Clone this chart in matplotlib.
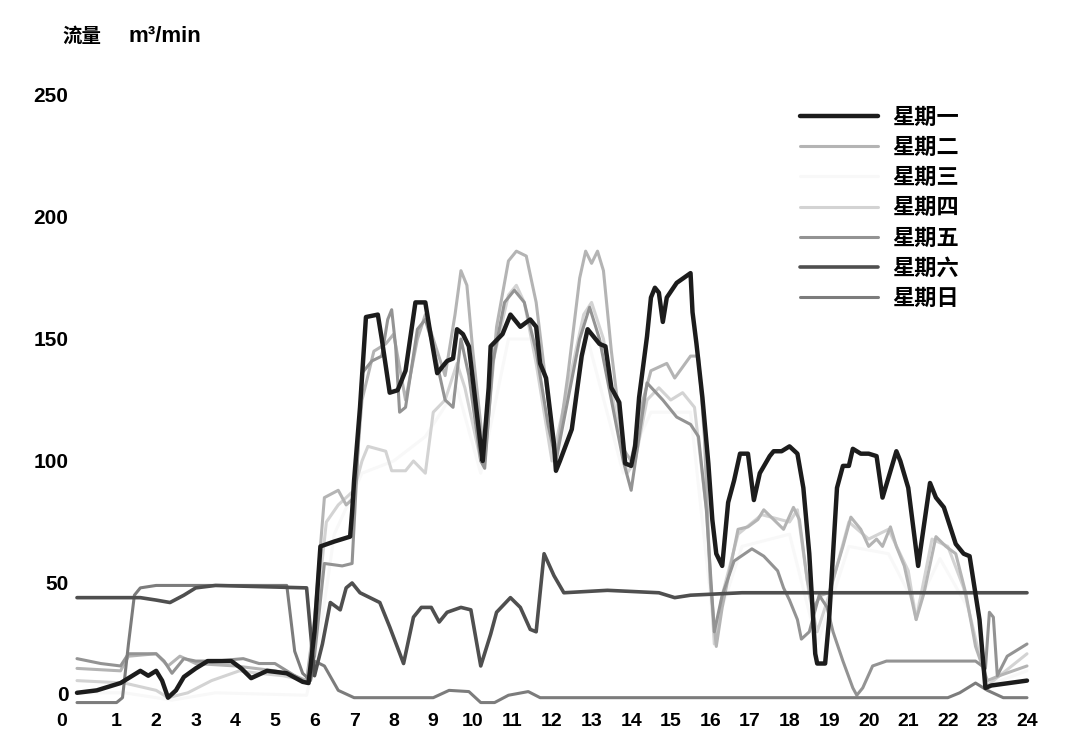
import matplotlib.pyplot as plt

# hour-of-day / flow readings (m3/min) for each weekday
hours_mon = [0, 0.5, 1.1, 1.4, 1.6, 1.8, 2.0, 2.15, 2.3, 2.5, 2.7, 3.0, 3.3, 3.9, 4.15, 4.4, 4.8, 5.3, 5.7, 5.85,
             6.0, 6.15, 6.5, 6.9, 6.95, 7.0, 7.15, 7.3, 7.6, 7.7, 7.9, 8.1, 8.3, 8.55, 8.8, 8.9, 9.1, 9.35, 9.5,
             9.6, 9.75, 9.9, 10.2, 10.25, 10.4, 10.45, 10.75, 10.95, 11.2, 11.45, 11.6, 11.7, 11.85, 12.05, 12.1,
             12.2, 12.5, 12.75, 12.9, 13.2, 13.35, 13.5, 13.7, 13.85, 14.0, 14.1, 14.2, 14.4, 14.5, 14.6, 14.7,
             14.8, 14.9, 15.15, 15.5, 15.55, 15.65, 15.8, 15.95, 16.05, 16.15, 16.3, 16.45, 16.6, 16.75, 16.95,
             17.1, 17.25, 17.5, 17.6, 17.8, 18.0, 18.2, 18.35, 18.5, 18.65, 18.7, 18.9, 19.0, 19.2, 19.35, 19.5,
             19.6, 19.8, 20.0, 20.2, 20.35, 20.7, 20.8, 21.0, 21.25, 21.55, 21.7, 21.9, 22.2, 22.4, 22.55, 22.8,
             22.95, 23.1, 24]
flow_mon = [5, 6, 9, 12, 14, 12, 14, 10, 3, 6, 11.5, 15, 18, 18, 15, 11, 14, 13, 9.5, 9,
            30, 65, 67, 69, 79, 92, 122, 159, 160, 150, 128, 129, 137, 165, 165, 155, 136, 141, 142,
            154, 152, 147, 106, 100, 130, 147, 152, 160, 155, 158, 155, 140, 134, 107, 96,
            100, 113, 143, 154, 148, 147, 130, 124, 99, 98, 106, 126, 151, 167, 171, 169,
            157, 167, 173, 177, 161, 148, 126, 99, 76, 62, 57, 83, 92, 103, 103,
            84, 95, 102, 104, 104, 106, 103, 89, 62, 21, 17, 17, 35, 89, 98, 98,
            105, 103, 103, 102, 85, 104, 100, 89, 57, 91, 85, 81, 66, 62, 61, 35,
            7, 8, 10]

hours_tue = [0, 1.1, 1.3, 2.0, 2.3, 2.6, 3.0, 4.0, 5.0, 5.5, 5.8, 6.0, 6.25, 6.6, 6.8, 7.0, 7.2, 7.5, 7.8, 8.0,
             8.3, 8.6, 8.8, 9.0, 9.3, 9.55, 9.7, 9.85, 10.0, 10.3, 10.6, 10.9, 11.1, 11.35, 11.6, 11.9, 12.1,
             12.4, 12.7, 12.85, 13.0, 13.15, 13.3, 13.5, 13.8, 14.0, 14.3, 14.5, 14.9, 15.1, 15.5, 15.7, 15.85,
             16.0, 16.15, 16.3, 16.7, 16.95, 17.2, 17.35, 17.6, 17.85, 18.1, 18.25, 18.45, 18.6, 18.8, 19.0,
             19.35, 19.55, 19.8, 20.0, 20.2, 20.35, 20.55, 20.7, 20.9, 21.2, 21.4, 21.7, 21.95, 22.2, 22.45,
             22.7, 23.0, 23.3, 24]
flow_tue = [15, 14, 20, 21, 16, 20, 17, 16, 14, 12, 10, 35, 85, 88, 82, 85, 125, 145, 148, 152,
            125, 150, 160, 150, 135, 160, 178, 172, 145, 100, 155, 182, 186, 184, 165, 125, 100,
            135, 175, 186, 181, 186, 178, 145, 105, 100, 125, 137, 140, 134, 143, 143, 110,
            50, 24, 40, 72, 73, 76, 80, 76, 72, 81, 76, 51, 40, 45, 46,
            65, 77, 72, 65, 68, 65, 73, 65, 57, 35, 46, 69, 65, 62, 46,
            24, 10, 12, 16]

hours_wed = [0, 1.2, 2.4, 3.5, 5.8, 6.1, 6.5, 7.2, 8.0, 8.8, 9.6, 10.2, 10.9, 11.5, 12.1, 12.9, 13.8, 14.5,
             15.5, 16.1, 16.8, 18.0, 18.7, 19.5, 20.5, 21.2, 21.8, 22.5, 23.0, 24]
flow_wed = [5, 5, 2, 5, 4, 25, 70, 95, 100, 110, 130, 95, 150, 150, 95, 150, 95, 120,
            120, 30, 65, 70, 25, 65, 62, 40, 60, 40, 8, 14]

hours_thu = [0, 1.2, 2.0, 2.3, 2.8, 3.4, 4.1, 4.6, 5.2, 5.8, 6.0, 6.3, 6.6, 7.0, 7.2, 7.35, 7.8, 7.95, 8.3,
             8.5, 8.8, 9.0, 9.3, 9.6, 9.8, 10.2, 10.5, 10.9, 11.1, 11.3, 11.6, 12.0, 12.4, 12.8, 13.0, 13.3,
             13.6, 13.9, 14.1, 14.4, 14.7, 15.0, 15.3, 15.6, 15.9, 16.1, 16.3, 16.7, 17.3, 18.0, 18.2, 18.5,
             18.7, 19.0, 19.5, 20.0, 20.5, 21.0, 21.2, 21.6, 22.0, 22.4, 22.8, 23.0, 24]
flow_thu = [10, 9, 6, 3, 5, 10, 14, 13, 12, 10, 30, 75, 82, 88, 100, 106, 104, 96, 96,
            100, 95, 120, 125, 140, 130, 100, 140, 168, 172, 165, 140, 100, 130, 160, 165, 150,
            120, 95, 100, 125, 130, 125, 128, 122, 80, 25, 45, 70, 78, 75, 80, 45,
            30, 45, 75, 68, 72, 55, 35, 68, 65, 48, 20, 8, 21]

hours_fri = [0, 0.6, 1.1, 1.3, 2.0, 2.2, 2.4, 2.7, 3.0, 3.5, 4.2, 4.6, 5.0, 5.4, 5.8, 6.0, 6.25, 6.7, 6.95,
             7.2, 7.45, 7.7, 7.85, 7.95, 8.05, 8.15, 8.3, 8.6, 8.8, 9.0, 9.3, 9.5, 9.7, 9.9, 10.2, 10.3, 10.5,
             10.8, 11.05, 11.3, 11.6, 11.9, 12.1, 12.4, 12.7, 12.95, 13.2, 13.5, 13.8, 14.0, 14.2, 14.4, 14.8,
             15.15, 15.5, 15.7, 15.9, 16.1, 16.3, 16.6, 17.05, 17.35, 17.7, 17.85, 18.0, 18.2, 18.3, 18.5,
             18.75, 18.95, 19.1, 19.35, 19.6, 19.7, 19.85, 20.1, 20.45, 22.7, 22.95, 23.05, 23.15, 23.25,
             23.5, 24]
flow_fri = [19, 17, 16, 21, 21, 18, 13, 19, 18, 18, 19, 17, 17, 13, 9, 20, 58, 57, 58,
            136, 141, 143, 158, 162, 147, 120, 122, 154, 158, 147, 125, 122, 150, 135, 100, 97, 140,
            165, 170, 165, 145, 115, 100, 125, 150, 163, 150, 125, 100, 88, 110, 132, 125,
            118, 115, 110, 80, 30, 45, 59, 64, 61, 55, 48, 43, 35, 27, 30,
            45, 40, 30, 18, 7, 4, 7, 16, 18, 18, 15, 38, 36, 12,
            20, 25]

hours_sat = [0, 1.6, 2.0, 2.35, 2.7, 3.0, 3.5, 5.8, 5.9, 6.0, 6.2, 6.4, 6.65, 6.8, 6.95, 7.15, 7.4, 7.65, 7.9,
             8.25, 8.5, 8.7, 8.95, 9.15, 9.35, 9.7, 9.95, 10.2, 10.45, 10.6, 10.95, 11.2, 11.45, 11.6, 11.8,
             12.05, 12.3, 13.4, 14.7, 15.1, 15.5, 16.8, 24]
flow_sat = [44, 44, 43, 42, 45, 48, 49, 48, 30, 12, 25, 42, 39, 48, 50, 46, 44, 42, 32,
            17, 36, 40, 40, 34, 38, 40, 39, 16, 29, 38, 44, 40, 31, 30, 62,
            53, 46, 47, 46, 44, 45, 46, 46]

hours_sun = [0, 1.0, 1.15, 1.3, 1.45, 1.6, 2.0, 5.3, 5.5, 5.7, 5.9, 6.0, 6.25, 6.6, 7.0, 9.0, 9.4, 9.9, 10.2,
             10.55, 10.9, 11.4, 11.7, 22.0, 22.3, 22.7, 23.0, 23.4, 24]
flow_sun = [1, 1, 3, 25, 45, 48, 49, 49, 22, 13, 10, 18, 16, 6, 3, 3, 6, 5.5, 1,
            1, 4, 5.5, 3, 3, 5, 9, 6, 3, 3]

days = ['星期一', '星期二', '星期三', '星期四', '星期五', '星期六', '星期日']
x_labels = [str(h) for h in range(25)]
y_ticks = [0, 50, 100, 150, 200, 250]

series = {
    '星期一': (hours_mon, flow_mon, '#1c1c1c', 3.2),
    '星期二': (hours_tue, flow_tue, '#b4b4b4', 2.2),
    '星期三': (hours_wed, flow_wed, '#f8f8f8', 2.2),
    '星期四': (hours_thu, flow_thu, '#d3d3d3', 2.2),
    '星期五': (hours_fri, flow_fri, '#939393', 2.2),
    '星期六': (hours_sat, flow_sat, '#4f4f4f', 2.6),
    '星期日': (hours_sun, flow_sun, '#7c7c7c', 2.2),
}
draw_order = ['星期三', '星期四', '星期二', '星期五', '星期日', '星期六', '星期一']

fig = plt.figure(figsize=(10.8, 7.33), dpi=100)
# x: -0.5..24 -> px 57..1027 ; y: 0..250 -> px 705..95
ax = fig.add_axes([57.2 / 1080, 28 / 733, 969.8 / 1080, 610 / 733])

handles = {}
for d in draw_order:
    xs, ys, c, lw = series[d]
    ln, = ax.plot(xs, ys, color=c, lw=lw, clip_on=False,
                  solid_joinstyle='round', solid_capstyle='round')
    handles[d] = ln

ax.set_xlim(-0.5, 24)
ax.set_ylim(0, 250)
for s in ax.spines.values():
    s.set_visible(False)

tick_pos = [-0.38] + list(range(1, 25))
ax.set_xticks(tick_pos)
ax.set_xticklabels(x_labels, fontfamily='Liberation Sans', fontweight='bold', fontsize=14)
ax.set_yticks(y_ticks)
ax.set_yticklabels([str(v) for v in y_ticks], fontfamily='Liberation Sans',
                   fontweight='bold', fontsize=15)
ax.tick_params(axis='both', length=0)
ax.tick_params(axis='x', pad=6)
ax.tick_params(axis='y', pad=-8)
# lift the y "0" a little so it clears the x "0" below it
ax.get_yticklabels()[0].set_va('bottom')

leg = ax.legend([handles[d] for d in days], days, loc='upper left',
                bbox_to_anchor=(800 / 1080, 1 - 106 / 733), bbox_transform=fig.transFigure,
                frameon=False, borderpad=0, borderaxespad=0, handlelength=3.5,
                handletextpad=0.65, labelspacing=0.32,
                prop={'family': 'Noto Sans CJK SC', 'weight': 'bold', 'size': 16})

fig.text(62 / 1080, 1 - 36 / 733, '流量', family='Noto Sans CJK SC', weight='bold',
         fontsize=14, va='center', ha='left')
fig.text(128 / 1080, 1 - 36 / 733, 'm³/min', family='Liberation Sans', weight='bold',
         fontsize=16, va='center', ha='left')

fig.savefig('out.png', dpi=100, facecolor='white')
